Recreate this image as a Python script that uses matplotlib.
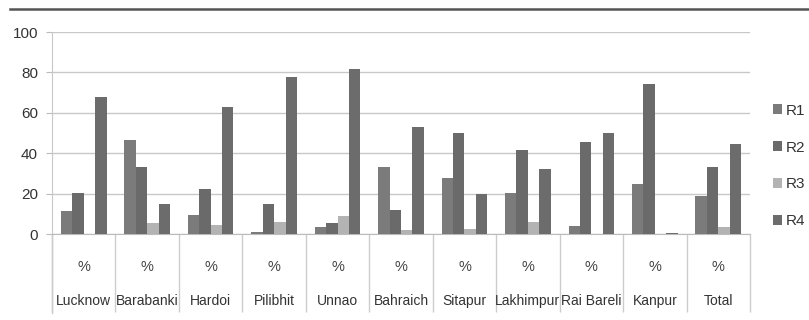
#!/usr/bin/env python3
"""Grouped bar chart: R1-R4 share (%) by district."""
import matplotlib
matplotlib.use("Agg")
import matplotlib.pyplot as plt
from matplotlib.lines import Line2D
from matplotlib.patches import Patch
import numpy as np

districts = ["Lucknow", "Barabanki", "Hardoi", "Pilibhit", "Unnao", "Bahraich",
             "Sitapur", "Lakhimpur", "Rai Bareli", "Kanpur", "Total"]
series_names = ["R1", "R2", "R3", "R4"]
r1 = [11.5, 46.5, 9.5, 1.0, 3.5, 33.0, 27.5, 20.5, 4.0, 25.0, 19.0]
r2 = [20.5, 33.0, 22.5, 15.0, 5.5, 12.0, 50.0, 41.5, 45.5, 74.5, 33.0]
r3 = [0.0, 5.5, 4.5, 6.0, 9.0, 2.0, 2.5, 6.0, 0.0, 0.0, 3.5]
r4 = [68.0, 15.0, 63.0, 77.5, 81.5, 53.0, 20.0, 32.0, 50.0, 0.5, 44.5]
y_ticks = [0, 20, 40, 60, 80, 100]

colors = ["#7b7b7b", "#6a6a6a", "#b3b3b3", "#6c6c6c"]

plt.rcParams["font.family"] = ["Liberation Sans", "DejaVu Sans"]

fig = plt.figure(figsize=(8.09, 3.2), dpi=100)
ax = fig.add_axes([52 / 809, 1 - 234 / 320, (750 - 52) / 809, (234 - 32) / 320])

x = np.arange(len(districts))
w = 0.18
for i, (vals, c) in enumerate(zip([r1, r2, r3, r4], colors)):
    ax.bar(x + (i - 1.5) * w, vals, width=w, color=c, edgecolor="none", zorder=3)

ax.set_xlim(-0.5, len(districts) - 0.5)
ax.set_ylim(0, 100)
ax.set_yticks(y_ticks)
ax.set_yticklabels([str(t) for t in y_ticks], fontsize=11, color="#333333")
ax.grid(axis="y", color="#c8c8c8", lw=1, zorder=0)
ax.tick_params(axis="y", length=4, color="#bbbbbb", pad=6)

for s in ["top", "right"]:
    ax.spines[s].set_visible(False)
ax.spines["left"].set_color("#c8c8c8")
ax.spines["bottom"].set_color("#bbbbbb")

# category labels: "%" row and district names
ax.set_xticks(x)
ax.set_xticklabels(["%"] * len(districts), fontsize=10.5, color="#444444")
ax.tick_params(axis="x", length=0, pad=19)
trans = ax.get_xaxis_transform()
for xi, name in zip(x, districts):
    ax.text(xi, -0.33, name, transform=trans, ha="center", va="center",
            fontsize=10, color="#333333")

# separators between categories below the axis
ax.set_xticks(np.arange(-0.5, len(districts)), minor=True)
ax.tick_params(axis="x", which="minor", length=56, width=1, color="#cccccc")

# left axis line continues down through label area
ax.plot([-0.5, -0.5], [0, -0.39], transform=trans, color="#cccccc", lw=1, clip_on=False)

handles = [Patch(facecolor=c, edgecolor="none") for c in colors]
leg = fig.legend(handles, series_names, loc="center left", bbox_to_anchor=(773 / 809, 1 - 166 / 320),
                 frameon=False, fontsize=11, handlelength=0.6, handleheight=0.6,
                 handletextpad=0.25, labelspacing=1.5, borderpad=0, borderaxespad=0)
for t in leg.get_texts():
    t.set_color("#333333")

# thin rule across the top
fig.add_artist(Line2D([10 / 809, 1.0], [1 - 9 / 320, 1 - 9 / 320], color="#555555", lw=1.8))

fig.savefig("out.png", dpi=100)
plt.close(fig)
